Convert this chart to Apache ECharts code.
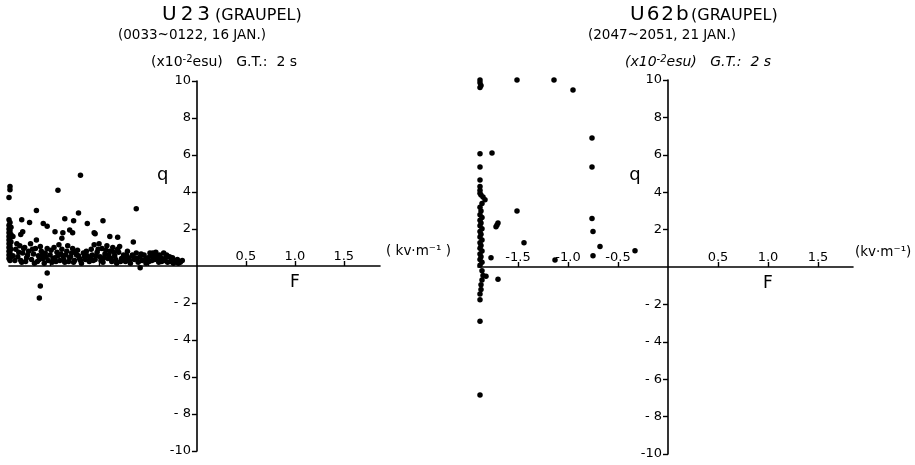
<!DOCTYPE html>
<html>
<head>
<meta charset="utf-8">
<script src="https://cdn.jsdelivr.net/npm/echarts@6/dist/echarts.min.js"></script>
<style>html,body{margin:0;padding:0;background:#fff}#c{width:915px;height:465px}</style>
</head>
<body>
<div id="c"></div>
<script>
// ---- data (F in kV/m, q in 10^-2 esu) ----
const yTicks = [-10, -8, -6, -4, -2, 2, 4, 6, 8, 10];
const xTicks = [-1.5, -1.0, -0.5, 0.5, 1.0, 1.5];
const xLabelsLeft = [0.5, 1.0, 1.5];
const xLabelsRight = [-1.5, -1.0, -0.5, 0.5, 1.0, 1.5];

const u23Outliers = [
  [-1.91,4.3],[-1.91,4.12],[-1.92,3.7],[-1.19,4.9],[-1.42,4.1],[-1.64,3.0],[-1.21,2.87],
  [-0.62,3.1],[-0.96,2.45],[-1.53,-0.38],[-1.60,-1.08],[-1.61,-1.73],[-0.58,-0.1]
];
const u23Upper = [
  [-1.79,2.5],[-1.71,2.35],[-1.57,2.3],[-1.53,2.15],[-1.35,2.55],[-1.26,2.45],[-1.12,2.3],
  [-1.45,1.85],[-1.37,1.8],[-1.38,1.5],[-1.30,1.95],[-1.27,1.8],[-1.78,1.85],[-1.80,1.7],
  [-1.64,1.4],[-1.05,1.8],[-1.04,1.75],[-0.89,1.6],[-0.81,1.55],[-0.65,1.3]
];
const u23Column = [
  [-1.92,2.5],[-1.91,2.35],[-1.92,2.2],[-1.90,2.1],[-1.92,2.0],[-1.91,1.9],[-1.92,1.8],[-1.90,1.7],
  [-1.92,1.6],[-1.91,1.5],[-1.92,1.4],[-1.90,1.3],[-1.92,1.2],[-1.91,1.1],[-1.92,1.0],[-1.90,0.9],
  [-1.92,0.8],[-1.91,0.7],[-1.92,0.6],[-1.90,0.5],[-1.92,0.4],[-1.91,0.3],[-1.88,1.6],[-1.88,0.55]
];
const u23Band = [
  [-1.85,0.9],[-1.83,0.5],[-1.81,1.1],[-1.80,0.3],[-1.78,0.7],[-1.76,1.0],[-1.74,0.45],[-1.72,0.8],
  [-1.70,1.2],[-1.69,0.35],[-1.67,0.65],[-1.65,0.95],[-1.63,0.25],[-1.62,0.55],[-1.60,1.05],[-1.59,0.8],
  [-1.57,0.4],[-1.56,0.15],[-1.55,0.7],[-1.53,0.95],[-1.52,0.3],[-1.50,0.6],[-1.48,0.2],[-1.46,1.0],
  [-1.45,0.45],[-1.43,0.75],[-1.41,1.15],[-1.40,0.3],[-1.38,0.9],[-1.37,0.55],[-1.35,0.2],[-1.33,0.8],
  [-1.32,1.1],[-1.30,0.45],[-1.28,0.7],[-1.27,0.95],[-1.25,0.3],[-1.23,0.6],[-1.22,0.85],[-1.20,0.4],
  [-1.18,0.15],[-1.16,0.7],[-1.14,0.35],[-1.12,0.55],[-1.10,0.25],[-1.08,0.9],[-1.07,0.6],[-1.05,1.15],
  [-1.04,0.35],[-1.02,0.75],[-1.00,1.2],[-0.99,0.5],[-0.97,0.95],[-0.96,0.2],[-0.94,0.65],[-0.92,1.1],
  [-0.91,0.4],[-0.89,0.8],[-0.87,0.25],[-0.86,1.0],[-0.84,0.55],[-0.82,0.15],[-0.80,0.75],[-0.79,1.05],
  [-0.77,0.4],[-0.75,0.6],[-0.73,0.25],[-0.71,0.8],[-0.70,0.45],[-0.68,0.15],[-0.66,0.6],[-0.64,0.35],
  [-0.62,0.7],[-0.60,0.2],[-0.58,0.5],[-0.56,0.3],[-0.54,0.6],[-0.52,0.15],[-0.50,0.45],[-0.48,0.7],
  [-0.46,0.3],[-0.44,0.55],[-0.42,0.75],[-0.40,0.4],[-0.38,0.6],[-0.36,0.25],[-0.34,0.7],[-0.32,0.45],
  [-0.30,0.2],[-0.28,0.5],[-0.26,0.35],[-0.24,0.15],[-0.20,0.35],[-0.17,0.2],[-0.15,0.3],
  [-1.86,0.3],[-1.84,1.2],[-1.82,0.75],[-1.79,0.2],[-1.77,0.95],[-1.75,0.25],[-1.73,0.6],[-1.68,0.9],
  [-1.66,0.15],[-1.61,0.35],[-1.58,0.6],[-1.54,0.5],[-1.49,0.85],[-1.47,0.4],[-1.44,0.25],[-1.42,0.55],
  [-1.39,0.65],[-1.36,0.35],[-1.34,0.6],[-1.31,0.25],[-1.29,0.5],[-1.26,0.2],[-1.24,0.75],[-1.21,0.55],
  [-1.19,0.3],[-1.15,0.5],[-1.13,0.8],[-1.09,0.45],[-1.06,0.3],[-1.03,0.55],[-1.01,0.9],[-0.98,0.3],
  [-0.95,0.45],[-0.93,0.85],[-0.90,0.6],[-0.88,0.4],[-0.85,0.75],[-0.83,0.35],[-0.81,0.9],[-0.78,0.25],
  [-0.74,0.45],[-0.72,0.6],[-0.69,0.3],[-0.65,0.5],[-0.61,0.4],[-0.57,0.65],[-0.53,0.35],[-0.49,0.25],
  [-0.47,0.55],[-0.45,0.7],[-0.43,0.35],[-0.41,0.55],[-0.39,0.2],[-0.37,0.45],[-0.33,0.3],[-0.31,0.6],
  [-0.27,0.25],[-0.25,0.45],[-0.22,0.25],[-0.19,0.15]
];
const u62bPoints = [
  [-1.88,10.0],[-1.88,9.85],[-1.87,9.7],[-1.88,9.6],[-1.51,10.0],[-1.14,10.0],[-0.95,9.47],
  [-0.76,6.9],[-0.76,5.35],[-0.76,2.6],[-0.75,1.9],[-0.75,0.6],[-0.68,1.1],[-0.33,0.87],
  [-1.13,0.37],[-1.44,1.3],[-1.51,3.0],[-1.76,6.1],[-1.88,6.05],[-1.88,5.35],[-1.88,4.65],
  [-1.88,4.3],[-1.88,3.95],[-1.85,3.75],[-1.83,3.6],[-1.86,3.4],
  [-1.88,4.1],[-1.87,3.85],[-1.88,3.2],[-1.87,3.0],[-1.88,2.8],[-1.86,2.65],[-1.88,2.5],[-1.87,2.35],
  [-1.88,2.2],[-1.86,2.05],[-1.88,1.9],[-1.87,1.75],[-1.88,1.6],[-1.86,1.45],[-1.88,1.3],[-1.87,1.15],
  [-1.88,1.0],[-1.86,0.85],[-1.88,0.7],[-1.87,0.55],[-1.88,0.4],[-1.86,0.25],[-1.88,0.1],
  [-1.70,2.35],[-1.72,2.15],[-1.71,2.25],[-1.77,0.5],[-1.70,-0.65],
  [-1.86,-0.2],[-1.85,-0.45],[-1.82,-0.5],[-1.86,-0.7],[-1.87,-0.95],[-1.87,-1.2],[-1.88,-1.45],
  [-1.88,-1.75],[-1.88,-2.9],[-1.88,-6.85]
];
const u23Points = u23Outliers.concat(u23Upper, u23Column, u23Band);

// ---- chart ----
const FONT = 'DejaVu Sans';
const G = [
  {left: 9, top: 81, width: 371, height: 370, xmin: -1.92, xmax: 1.87},
  {left: 478, top: 80, width: 375, height: 374, xmin: -1.9, xmax: 1.85}
];
const chart = echarts.init(document.getElementById('c'), null, {renderer: 'canvas'});
function xAxisCfg(gi, labels) {
  const g = G[gi];
  return {
    type: 'value', gridIndex: gi, min: g.xmin, max: g.xmax, position: 'top',
    offset: -g.height / 2,
    axisLine: {onZero: false, lineStyle: {color: '#000', width: 1.6}},
    axisTick: {show: true, length: 5, customValues: xTicks, lineStyle: {color: '#000', width: 1.4}},
    axisLabel: {show: true, customValues: labels, margin: 3, color: '#000', fontFamily: FONT, fontSize: 13,
      formatter: v => v.toFixed(1)},
    splitLine: {show: false}
  };
}
function yAxisCfg(gi) {
  const g = G[gi];
  return {
    type: 'value', gridIndex: gi, min: -10, max: 10, interval: 2, position: 'left',
    offset: -g.width * (-g.xmin) / (g.xmax - g.xmin),
    axisLine: {onZero: false, lineStyle: {color: '#000', width: 1.6}},
    axisTick: {show: true, length: 5, customValues: yTicks, lineStyle: {color: '#000', width: 1.4}},
    axisLabel: {customValues: yTicks, margin: 6, color: '#000', fontFamily: FONT, fontSize: 13,
      formatter: v => (v < 0 && v > -10) ? '- ' + (-v) : String(v)},
    splitLine: {show: false}
  };
}
const dot = {color: '#000', opacity: 1};
chart.setOption({
  animation: false,
  backgroundColor: '#fff',
  grid: G.map(g => ({left: g.left, top: g.top, width: g.width, height: g.height})),
  xAxis: [xAxisCfg(0, xLabelsLeft), xAxisCfg(1, xLabelsRight)],
  yAxis: [yAxisCfg(0), yAxisCfg(1)],
  series: [
    {type: 'scatter', xAxisIndex: 0, yAxisIndex: 0, data: u23Points, symbolSize: 5.5, itemStyle: dot, clip: false},
    {type: 'scatter', xAxisIndex: 1, yAxisIndex: 1, data: u62bPoints, symbolSize: 5.5, itemStyle: dot, clip: false}
  ]
});

function px(gi, p) { return chart.convertToPixel({gridIndex: gi}, p); }
const lF = px(0, [1.0, 0]), rF = px(1, [1.0, 0]);
const lq = px(0, [-0.35, 4.9]), rq = px(1, [-0.33, 4.9]);
const lEnd = px(0, [1.87, 0]), rEnd = px(1, [1.85, 0]);
function T(x, y, text, size, align, italic) {
  return {type: 'text', x: x, y: y,
    style: {text: text, fill: '#000', font: (italic ? 'italic ' : '') + size + 'px "' + FONT + '"',
      textVerticalAlign: 'middle', textAlign: align || 'left'}};
}
function unitText(x, y, italic) {
  const st = italic ? 'italic' : 'normal';
  return {type: 'text', x: x, y: y, style: {
    text: '{a|(x10}{s|-2}{a|esu)}{a|   G.T.:  2 s}',
    rich: {
      a: {fontSize: 14, fontFamily: FONT, fontStyle: st, fill: '#000'},
      s: {fontSize: 10, fontFamily: FONT, fontStyle: st, fill: '#000', verticalAlign: 'top', padding: [0, 0, 6, 0]}
    },
    textVerticalAlign: 'middle'}};
}
chart.setOption({
  graphic: [
    T(162, 15, 'U\u20092\u20093', 20), T(215, 16, '(GRAUPEL)', 16),
    T(118, 35, '(0033~0122, 16 JAN.)', 13.5),
    unitText(151, 62, false),
    T(lF[0], lF[1] + 17, 'F', 17, 'center'),
    T(lq[0], lq[1], 'q', 18, 'center'),
    T(lEnd[0] + 6, lEnd[1] - 15, '( kv·m⁻¹ )', 13.5),

    T(630, 15, 'U\u200a6\u200a2\u200ab', 20), T(691, 16, '(GRAUPEL)', 16),
    T(588, 35, '(2047~2051, 21 JAN.)', 13.5),
    unitText(625, 62, true),
    T(rF[0], rF[1] + 17, 'F', 17, 'center'),
    T(rq[0], rq[1], 'q', 18, 'center'),
    T(rEnd[0] + 2, rEnd[1] - 15, '(kv·m⁻¹)', 13.5)
  ]
});
</script>
</body>
</html>
